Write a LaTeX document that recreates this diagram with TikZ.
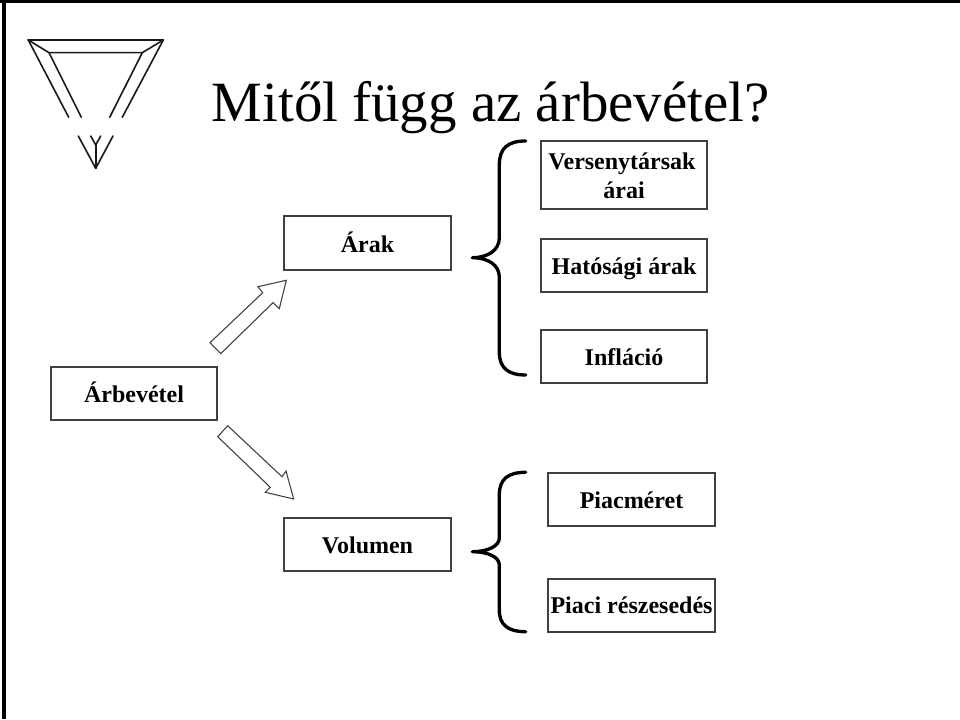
\documentclass[tikz,border=0pt]{standalone}
\usepackage{fontspec}
\setmainfont{Liberation Serif}
\newcommand{\boxnode}[7]{%
  \node[lbl,minimum width={(#4-#2)*0.75pt},minimum height={(#5-#3)*0.75pt},text height={(#6-#3)*0.75pt},text depth={(#5-#6)*0.75pt}] (#1) at ({(#2+#4)/2},{(#3+#5)/2}) {#7};}
\begin{document}
\begin{tikzpicture}[x=0.75pt,y=-0.75pt,
  lbl/.style={draw=black!75,line width=0.8pt,inner sep=0pt,outer sep=0pt,font=\fontsize{18}{21.8}\selectfont\bfseries,align=center},
  logoline/.style={line width=1.2pt,black!90,line cap=round,line join=round},
  bracket/.style={line width=2.5pt,line cap=round,line join=round},
  blockarrow/.style={draw=black!75,line width=0.8pt,line join=miter,fill=white},
  framebar/.style={fill=black}]
\useasboundingbox (0,0) rectangle (960,720);
\fill[framebar] (0,0) rectangle (960,3);
\fill[framebar] (1.7,0) rectangle (5.7,719);
% logo
\coordinate (lo) at (28.3,40); \coordinate (ro) at (163.3,40);
\coordinate (li) at (49,52.7); \coordinate (ri) at (142.3,52.7);
\draw[logoline,line width=1.8pt] (lo) -- (ro);
\draw[logoline] (lo) -- (li) -- (ri) -- (ro);
\draw[logoline] (lo) -- (68.7,117.3);
\draw[logoline] (li) -- (81.3,117.3);
\draw[logoline] (ri) -- (109.7,117.3);
\draw[logoline] (ro) -- (122.3,117.3);
\coordinate (vb) at (95.7,168.3);
\draw[logoline] (78.3,136) -- (vb) -- (113,136);
\draw[logoline] (vb) -- (95.7,145);
\draw[logoline] (90.7,136) -- (95.7,145) -- (100.7,136);
% title
\node[anchor=base west,inner sep=0pt,font=\fontsize{42.7}{48}\selectfont] (title) at (211.5,121.5) {Mitől függ az árbevétel?};
% boxes
\boxnode{arbev}{51}{367}{217}{420}{402}{Árbevétel}
\boxnode{arak}{284}{216}{451}{270}{252.5}{Árak}
\boxnode{vol}{284}{518}{451}{571}{553.5}{Volumen}
\boxnode{vers}{541}{141}{707}{209}{198.3}{Versenytársak\kern3pt\\árai}
\boxnode{hat}{541}{239}{707}{292}{274.5}{Hatósági árak}
\boxnode{inf}{541}{330}{707}{383}{365}{Infláció}
\boxnode{piac}{548}{473}{715}{526}{508.3}{Piacméret}
\boxnode{resz}{548}{579}{715}{632}{613.5}{Piaci részesedés}
% block arrows
\draw[blockarrow] (210,342.7) -- (262.7,292.7) -- (258,286.7) -- (286.3,280.3) -- (279.3,308.7) -- (273,302.7) -- (220.7,353.7) -- cycle;
\draw[blockarrow] (217.7,436.7) -- (227.7,425.7) -- (282,476.7) -- (286,471) -- (293.7,499) -- (265.3,492.3) -- (270.3,487.3) -- cycle;
% braces
\draw[bracket] (525.7,141) .. controls (508,141) and (499.3,148) .. (499.3,165) -- (499.3,238) .. controls (499.3,250) and (488,257.7) .. (472.3,257.7) .. controls (488,257.7) and (499.3,265) .. (499.3,277) -- (499.3,352) .. controls (499.3,368) and (508,375) .. (525.7,375);
\draw[bracket] (525.7,472.3) .. controls (508,472.3) and (499.3,479) .. (499.3,495) -- (499.3,538) .. controls (499.3,546) and (488,551.7) .. (472.3,551.7) .. controls (488,551.7) and (499.3,557) .. (499.3,565) -- (499.3,610) .. controls (499.3,625) and (508,631.7) .. (525.7,631.7);
\end{tikzpicture}
\end{document}
